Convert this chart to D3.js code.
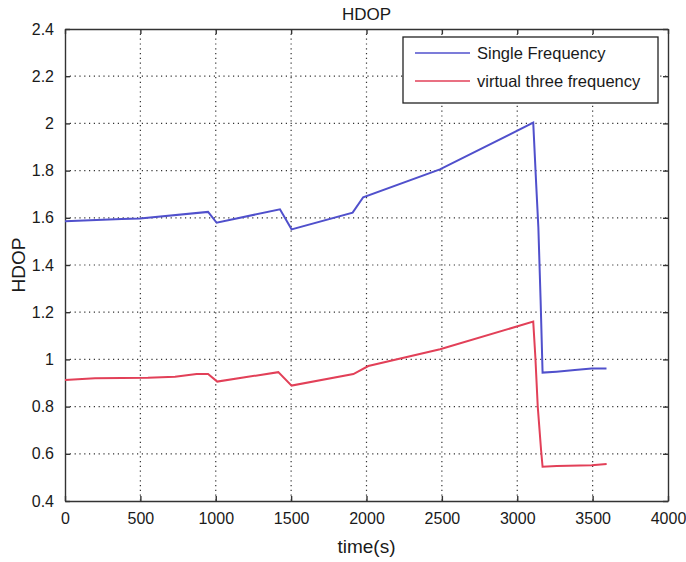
<!DOCTYPE html>
<html>
<head>
<meta charset="utf-8">
<script src="https://cdn.jsdelivr.net/npm/d3@7"></script>
<style>
  body { margin: 0; background: #fff; }
  svg { font-family: "Liberation Sans", Arial, sans-serif; }
</style>
</head>
<body>
<div id="chart"></div>
<script>
// data
var singleTime = [0, 376, 497, 949, 1006, 1426, 1503, 1908, 1978, 2487, 3106, 3125, 3140, 3155, 3168, 3260, 3382, 3493, 3592];
var singleHdop = [1.585, 1.595, 1.597, 1.625, 1.579, 1.636, 1.551, 1.622, 1.687, 1.805, 2.003, 1.75, 1.56, 1.25, 0.944, 0.948, 0.955, 0.961, 0.961];

var virtualTime = [0, 199, 550, 730, 873, 949, 1010, 1415, 1503, 1913, 2012, 2488, 3106, 3120, 3136, 3158, 3168, 3262, 3494, 3593];
var virtualHdop = [0.913, 0.920, 0.922, 0.927, 0.938, 0.938, 0.906, 0.946, 0.889, 0.938, 0.972, 1.043, 1.160, 1.011, 0.80, 0.616, 0.545, 0.548, 0.551, 0.557];

var xTicks = [0, 500, 1000, 1500, 2000, 2500, 3000, 3500, 4000];
var yTicks = [0.4, 0.6, 0.8, 1, 1.2, 1.4, 1.6, 1.8, 2, 2.2, 2.4];

var seriesNames = ["Single Frequency", "virtual three frequency"];
var seriesColors = ["#5050cc", "#e24058"];

var W = 686, H = 562;
var margin = {left: 65, top: 29, right: 18, bottom: 61};
var pw = W - margin.left - margin.right;
var ph = H - margin.top - margin.bottom;

var svg = d3.select("#chart").append("svg")
  .attr("width", W).attr("height", H);

var x = d3.scaleLinear().domain([0, 4000]).range([0, pw]);
var y = d3.scaleLinear().domain([0.4, 2.4]).range([ph, 0]);

var g = svg.append("g").attr("transform", "translate(" + margin.left + "," + margin.top + ")");

// dotted grid
g.selectAll(".vgrid").data(xTicks.slice(1, -1)).enter().append("line")
  .attr("x1", function(d){ return x(d); }).attr("x2", function(d){ return x(d); })
  .attr("y1", 0).attr("y2", ph)
  .attr("stroke", "#333").attr("stroke-width", 1.2).attr("stroke-dasharray", "1.2,3.6");
g.selectAll(".hgrid").data(yTicks.slice(1, -1)).enter().append("line")
  .attr("x1", 0).attr("x2", pw)
  .attr("y1", function(d){ return y(d); }).attr("y2", function(d){ return y(d); })
  .attr("stroke", "#333").attr("stroke-width", 1.2).attr("stroke-dasharray", "1.2,3.6");

// axes with inward ticks on all sides
var fmtY = function(d){ return String(+d.toFixed(1)); };
var xAxis = g.append("g").attr("transform", "translate(0," + ph + ")")
  .call(d3.axisBottom(x).tickValues(xTicks).tickFormat(d3.format("d")).tickSizeInner(-5).tickSizeOuter(0).tickPadding(12));
var yAxis = g.append("g")
  .call(d3.axisLeft(y).tickValues(yTicks).tickFormat(fmtY).tickSizeInner(-5).tickSizeOuter(0).tickPadding(11));
var xTop = g.append("g")
  .call(d3.axisTop(x).tickValues(xTicks).tickSizeInner(-5).tickSizeOuter(0).tickFormat(""));
var yRight = g.append("g").attr("transform", "translate(" + pw + ",0)")
  .call(d3.axisRight(y).tickValues(yTicks).tickSizeInner(-5).tickSizeOuter(0).tickFormat(""));

[xAxis, yAxis, xTop, yRight].forEach(function(a){
  a.selectAll("path").attr("stroke", "#333").attr("stroke-width", 1.4);
  a.selectAll("line").attr("stroke", "#333").attr("stroke-width", 1.4);
  a.selectAll("text").attr("fill", "#1a1a1a").style("font-size", "16px");
});

// series lines
var line = d3.line().x(function(d){ return x(d[0]); }).y(function(d){ return y(d[1]); });
var series = [d3.zip(singleTime, singleHdop), d3.zip(virtualTime, virtualHdop)];
g.selectAll(".series").data(series).enter().append("path")
  .attr("d", line)
  .attr("fill", "none")
  .attr("stroke", function(d, i){ return seriesColors[i]; })
  .attr("stroke-width", 2);

// legend
var legend = svg.append("g");
legend.append("rect")
  .attr("x", 403).attr("y", 37).attr("width", 255).attr("height", 66)
  .attr("fill", "#fff").attr("stroke", "#222").attr("stroke-width", 1.3);
seriesNames.forEach(function(name, i){
  var ly = 53 + i * 28;
  legend.append("line").attr("x1", 415).attr("x2", 470).attr("y1", ly).attr("y2", ly)
    .attr("stroke", seriesColors[i]).attr("stroke-width", 1.5);
  legend.append("text").attr("x", 477).attr("y", ly + 6)
    .attr("fill", "#1a1a1a").style("font-size", "16.5px").text(name);
});

// titles
svg.append("text").attr("x", margin.left + pw / 2).attr("y", 20)
  .attr("text-anchor", "middle").attr("fill", "#1a1a1a").style("font-size", "17px").text("HDOP");
svg.append("text").attr("x", margin.left + pw / 2).attr("y", 553)
  .attr("text-anchor", "middle").attr("fill", "#1a1a1a").style("font-size", "19px").text("time(s)");
svg.append("text")
  .attr("transform", "translate(25," + (margin.top + ph / 2) + ") rotate(-90)")
  .attr("text-anchor", "middle").attr("fill", "#1a1a1a").style("font-size", "19px").text("HDOP");
</script>
</body>
</html>
